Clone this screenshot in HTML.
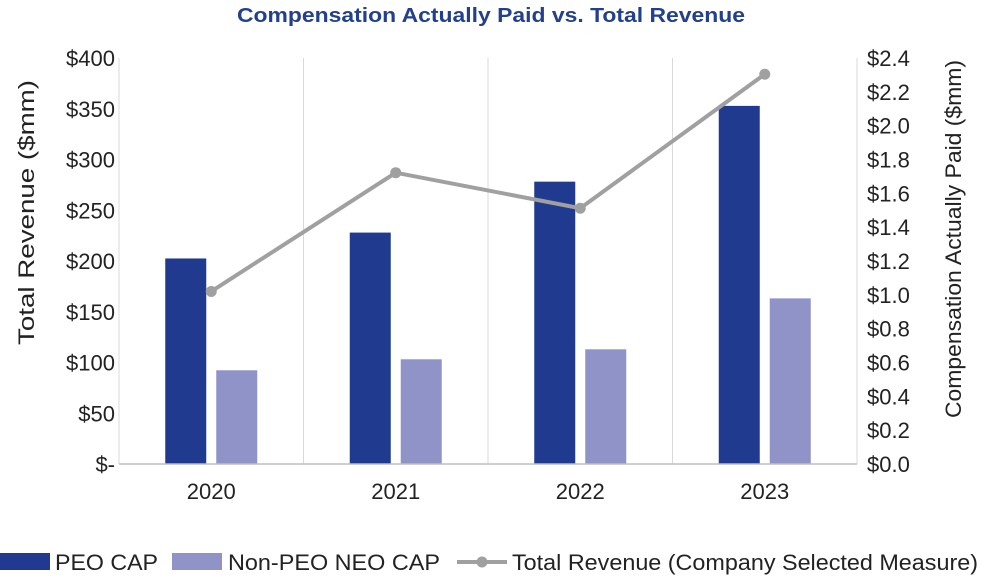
<!DOCTYPE html>
<html><head><meta charset="utf-8">
<style>
body{margin:0;background:#fff;}
svg text{font-family:"Liberation Sans",Arial,sans-serif;}
</style></head>
<body>
<svg id="chart" width="982" height="578" xmlns="http://www.w3.org/2000/svg">
<text x="237" y="22" textLength="508" lengthAdjust="spacingAndGlyphs" font-size="20" font-weight="bold" fill="#23408e">Compensation Actually Paid vs. Total Revenue</text>
<g id="grid"></g><g id="bars"></g><g id="line"></g><g id="axes"></g>
<text transform="translate(34,345) rotate(-90)" textLength="265" lengthAdjust="spacingAndGlyphs" font-size="22" fill="#222">Total Revenue ($mm)</text>
<text transform="translate(961,418) rotate(-90)" textLength="358" lengthAdjust="spacingAndGlyphs" font-size="22" fill="#222">Compensation Actually Paid ($mm)</text>
<g>
<rect x="0" y="553" width="50" height="17" fill="#1f3a8f"/>
<text x="55" y="570" textLength="103" lengthAdjust="spacingAndGlyphs" font-size="22" fill="#222">PEO CAP</text>
<rect x="172" y="553" width="50" height="17" fill="#8f93c8"/>
<text x="228" y="570" textLength="212" lengthAdjust="spacingAndGlyphs" font-size="22" fill="#222">Non-PEO NEO CAP</text>
<line x1="457" y1="562" x2="507" y2="562" stroke="#a0a0a0" stroke-width="4"/>
<circle cx="482" cy="562" r="5.5" fill="#a0a0a0"/>
<text x="512" y="570" textLength="466" lengthAdjust="spacingAndGlyphs" font-size="22" fill="#222">Total Revenue (Company Selected Measure)</text>
</g>
</svg>
<script>
const categories=["2020","2021","2022","2023"];
const peoCap=[1.215,1.368,1.669,2.117];
const nonPeoCap=[0.554,0.619,0.678,0.979];
const revenue=[170,287,252,384];
const leftTicks=["$-","$50","$100","$150","$200","$250","$300","$350","$400"];
const leftTickVals=[0,50,100,150,200,250,300,350,400];
const rightTicks=["$0.0","$0.2","$0.4","$0.6","$0.8","$1.0","$1.2","$1.4","$1.6","$1.8","$2.0","$2.2","$2.4"];
const rightTickVals=[0,0.2,0.4,0.6,0.8,1.0,1.2,1.4,1.6,1.8,2.0,2.2,2.4];

const NS="http://www.w3.org/2000/svg";
const X0=119,X1=857,Y0=464,Y1=58;
const band=(X1-X0)/categories.length;
const xc=i=>X0+band*(i+0.5);
const yL=v=>Y0-(v/400)*(Y0-Y1);
const yR=v=>Y0-(v/2.4)*(Y0-Y1);
function mk(tag,attrs,parent,txt){const e=document.createElementNS(NS,tag);for(const k in attrs)e.setAttribute(k,attrs[k]);if(txt!==undefined)e.textContent=txt;document.getElementById(parent).appendChild(e);return e;}
for(let i=0;i<=categories.length;i++){
  const x=X0+band*i;
  const g=mk('line',{x1:x,y1:Y1,x2:x,y2:Y0,stroke:'#d9d9d9','stroke-width':1},'grid');
  
  
}
const base=mk('line',{x1:X0,y1:Y0,x2:X1,y2:Y0,stroke:'#bfbfbf','stroke-width':1.5},'axes');


leftTickVals.forEach((v,i)=>{
  const t=mk('text',{x:115,y:yL(v)+8,'text-anchor':'end','font-size':22,fill:'#222'},'axes',leftTicks[i]);
  
  
});
rightTickVals.forEach((v,i)=>{
  const t=mk('text',{x:867,y:yR(v)+8,'font-size':22,fill:'#222'},'axes',rightTicks[i]);
  
  
});
categories.forEach((c,i)=>{
  const t=mk('text',{x:xc(i),y:499,'text-anchor':'middle','font-size':22,fill:'#222'},'axes',c);
  
  
  const b1=mk('rect',{x:xc(i)-46,y:yR(peoCap[i]),width:41,height:Y0-yR(peoCap[i]),fill:'#1f3a8f'},'bars');
  
  
  const b2=mk('rect',{x:xc(i)+5,y:yR(nonPeoCap[i]),width:41,height:Y0-yR(nonPeoCap[i]),fill:'#8f93c8'},'bars');
  
  
});
const pl=mk('polyline',{points:revenue.map((v,i)=>xc(i)+','+yL(v)).join(' '),fill:'none',stroke:'#a0a0a0','stroke-width':4},'line');


revenue.forEach((v,i)=>{
  const p=mk('circle',{cx:xc(i),cy:yL(v),r:5.5,fill:'#a0a0a0'},'line');
  
  
});
</script>
</body></html>
